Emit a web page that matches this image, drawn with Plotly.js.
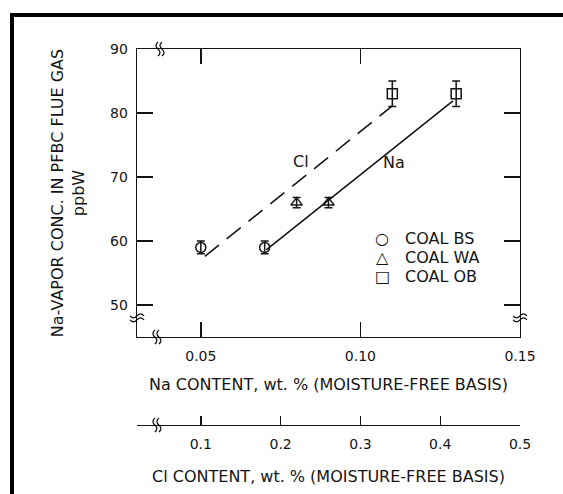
<!DOCTYPE html>
<html><head><meta charset="utf-8">
<script src="https://cdn.plot.ly/plotly-3.0.1.min.js"></script>
<style>
body{margin:0;background:#fff}
#wrap{position:relative;width:563px;height:494px;overflow:hidden}
#frame{position:absolute;left:10px;top:13px;width:600px;height:600px;border-left:4px solid #000;border-top:4px solid #000;pointer-events:none}
</style>
</head><body>
<div id="wrap"><div id="chart" style="width:563px;height:494px"></div><div id="frame"></div></div>
<script>
// ---- data ----
const coals = ['COAL BS', 'COAL WA', 'COAL OB'];
const legendGlyphs = ['○', '△', '□'];
const naContent = [0.07, 0.09, 0.13];      // wt. %, moisture-free
const clContent = [0.10, 0.22, 0.34];      // wt. %, moisture-free
const vaporConc = [59, 66, 83];            // ppbW
const vaporErr = [1.0, 0.8, 2.0];          // ppbW
const naFitX = [0.0705, 0.129];
const naFitY = [58.6, 81.9];
const clFitX = [0.105, 0.34];
const clFitY = [57.6, 81.1];
const naTicks = [0.05, 0.10, 0.15];
const naTickText = ['0.05', '0.10', '0.15'];
const clTicks = [0.02, 0.1, 0.2, 0.3, 0.4, 0.5];
const clTickText = ['', '0.1', '0.2', '0.3', '0.4', '0.5'];
const yTicks = [50, 60, 70, 80, 90];

const ink = '#151515';
const symbols = ['circle-open', 'triangle-up-open', 'square-open'];
const fam = 'DejaVu Sans, sans-serif';
const tickFont = {family: fam, size: 14, color: ink};
const titleFont = {family: fam, size: 16, color: ink};

const traces = [];
traces.push({x: naFitX, y: naFitY, xaxis: 'x', yaxis: 'y', mode: 'lines',
  line: {color: ink, width: 1.6}, showlegend: false, hoverinfo: 'skip'});
traces.push({x: clFitX, y: clFitY, xaxis: 'x2', yaxis: 'y', mode: 'lines',
  line: {color: ink, width: 1.6, dash: '18px,10px'}, showlegend: false, hoverinfo: 'skip'});
coals.forEach((c, i) => {
  const common = {
    y: [vaporConc[i]], yaxis: 'y', mode: 'markers', name: c, showlegend: false,
    marker: {symbol: symbols[i], size: 10, color: ink, line: {width: 1.5, color: ink}},
    error_y: {type: 'data', array: [vaporErr[i]], color: ink, thickness: 1.5, width: 4}
  };
  traces.push(Object.assign({}, common, {x: [naContent[i]], xaxis: 'x'}));
  traces.push(Object.assign({}, common, {x: [clContent[i]], xaxis: 'x2'}));
});

// axis-break marks, drawn in pixel units around an anchor point
const vBreak = 'M -2,7 Q -6,3.5 -2,0 Q 2,-3.5 -2,-7 M 2,7 Q -2,3.5 2,0 Q 6,-3.5 2,-7';
const hBreak = 'M -7,-2 Q -3.5,-6 0,-2 Q 3.5,2 7,-2 M -7,2 Q -3.5,-2 0,2 Q 3.5,6 7,2';
function brk(xa, ya, path) {
  return {type: 'path', xref: 'paper', yref: 'paper', xsizemode: 'pixel', ysizemode: 'pixel',
    xanchor: xa, yanchor: ya, path: path, line: {color: ink, width: 1.3}};
}

const legendAnn = [];
coals.forEach((c, i) => {
  const y = 0.495 - i * 0.05;
  legendAnn.push({xref: 'paper', yref: 'paper', x: 0.64, y: y, text: legendGlyphs[i],
    showarrow: false, xanchor: 'center', font: {family: fam, size: 16, color: ink}});
  legendAnn.push({xref: 'paper', yref: 'paper', x: 0.695, y: y, text: c,
    showarrow: false, xanchor: 'left', font: titleFont});
});

const layout = {
  width: 563, height: 494,
  margin: {l: 137, r: 43, t: 49, b: 69},
  paper_bgcolor: '#fff', plot_bgcolor: '#fff',
  font: tickFont,
  showlegend: false,
  xaxis: {
    range: [0.03, 0.15], tickvals: naTicks, ticktext: naTickText, tickfont: tickFont,
    ticks: 'inside', ticklen: 15, tickwidth: 1.4, tickcolor: ink,
    showline: true, linewidth: 1.4, linecolor: ink, mirror: 'ticks',
    showgrid: false, zeroline: false, anchor: 'y', ticklabelstandoff: 6,
    title: {text: 'Na CONTENT, wt. % (MOISTURE-FREE BASIS)', font: titleFont, standoff: 15}
  },
  xaxis2: {
    range: [0.02, 0.5], tickvals: clTicks, ticktext: clTickText, tickfont: tickFont,
    overlaying: 'x', anchor: 'free', position: 0, side: 'bottom',
    ticks: 'inside', ticklen: 9, tickwidth: 1.4, tickcolor: ink,
    showline: true, linewidth: 1.4, linecolor: ink,
    showgrid: false, zeroline: false, ticklabelstandoff: 6,
    title: {text: 'Cl CONTENT, wt. % (MOISTURE-FREE BASIS)', font: titleFont, standoff: 19}
  },
  yaxis: {
    domain: [0.234, 1], range: [45, 90], tickvals: yTicks, tickfont: tickFont,
    ticks: 'inside', ticklen: 16, tickwidth: 1.4, tickcolor: ink,
    showline: true, linewidth: 1.4, linecolor: ink, mirror: 'ticks',
    showgrid: false, zeroline: false, ticklabelstandoff: 5,
    title: {text: 'Na-VAPOR CONC. IN PFBC FLUE GAS<br>ppbW', font: titleFont, standoff: 21}
  },
  shapes: [
    brk(0.06, 1.0, vBreak),
    brk(0.052, 0.234, vBreak),
    brk(0.052, 0.0, vBreak),
    brk(0.0, 0.285, hBreak),
    brk(1.0, 0.285, hBreak)
  ],
  annotations: [
    {xref: 'x', yref: 'y', x: 0.0815, y: 72.5, text: 'Cl', showarrow: false, font: titleFont},
    {xref: 'x', yref: 'y', x: 0.1106, y: 72.3, text: 'Na', showarrow: false, font: titleFont}
  ].concat(legendAnn)
};

Plotly.newPlot('chart', traces, layout, {displayModeBar: false, staticPlot: true});
</script>
</body></html>
